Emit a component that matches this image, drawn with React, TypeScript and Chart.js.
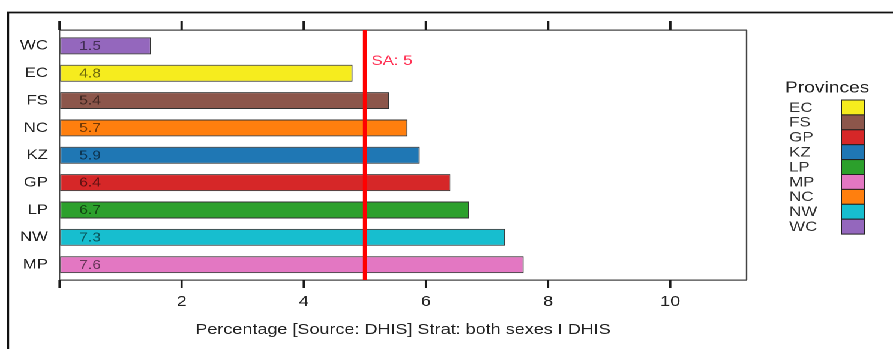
import React, { useEffect, useRef } from 'react';
import { Chart, registerables } from 'chart.js';

Chart.register(...registerables);

const FONT = '"Liberation Sans", Arial, Helvetica, sans-serif';
Chart.defaults.font.family = FONT;

// ---- data ----
const provinces = ['WC', 'EC', 'FS', 'NC', 'KZ', 'GP', 'LP', 'NW', 'MP'];
const values = [1.5, 4.8, 5.4, 5.7, 5.9, 6.4, 6.7, 7.3, 7.6];
const barColors = ['#9467bd', '#f6ec1e', '#8c564b', '#ff7f0e', '#1f77b4', '#d62728', '#2ca02c', '#17becf', '#e377c2'];
const legendLabels = ['EC', 'FS', 'GP', 'KZ', 'LP', 'MP', 'NC', 'NW', 'WC'];
const legendTitle = 'Provinces';
const saValue = 5;
const saLabel = 'SA: 5';
const xTitle = 'Percentage [Source: DHIS] Strat: both sexes I DHIS';
const xMin = 0;
const xMax = 11.25;
const xTickValues = [0, 2, 4, 6, 8, 10];
const valueLabelAt = 0.5;
const yMin = -0.58;
const yMax = 8.56;

// ---- layout (unstretched canvas coordinates) ----
const W = 744;
const H = 349;
const STRETCH = 893 / W;

const legendColors = legendLabels.map((l) => barColors[provinces.indexOf(l)]);

const fixX = (s: any) => {
  s.ticks = xTickValues.map((v) => ({ value: v }));
  s.min = xMin;
  s.max = xMax;
};

const decor = {
  id: 'decor',
  afterDatasetsDraw(chart: any) {
    const { ctx, chartArea: a, scales } = chart;
    const x = scales.x;
    const y = scales.y;
    ctx.save();
    // value labels inside bars
    ctx.font = `13px ${FONT}`;
    ctx.fillStyle = 'rgba(0,0,0,0.55)';
    ctx.textAlign = 'center';
    ctx.textBaseline = 'middle';
    values.forEach((v, i) => {
      ctx.fillText(v.toFixed(1), x.getPixelForValue(valueLabelAt), y.getPixelForValue(i) + 0.5);
    });
    // SA reference line
    const sx = x.getPixelForValue(saValue);
    ctx.strokeStyle = '#ff0000';
    ctx.lineWidth = 3.2;
    ctx.beginPath();
    ctx.moveTo(sx, a.top);
    ctx.lineTo(sx, a.bottom);
    ctx.stroke();
    ctx.font = `14px ${FONT}`;
    ctx.fillStyle = '#ff3355';
    ctx.textAlign = 'left';
    ctx.fillText(saLabel, sx + 5.5, y.getPixelForValue(0.55));
    ctx.restore();
  },
  afterDraw(chart: any) {
    const { ctx, chartArea: a, scales } = chart;
    const x = scales.x;
    ctx.save();
    // right border of the box
    ctx.strokeStyle = '#444';
    ctx.lineWidth = 1.2;
    ctx.beginPath();
    ctx.moveTo(a.right, a.top);
    ctx.lineTo(a.right, a.bottom);
    ctx.stroke();
    // tick marks below the bottom axis and above the top axis
    ctx.fillStyle = '#1a1a1a';
    xTickValues.forEach((v) => {
      const px = x.getPixelForValue(v);
      ctx.fillRect(px - 0.9, a.bottom, 1.8, 8);
      ctx.fillRect(px - 1, a.top - 9, 2, 9);
    });
    // outer frame
    ctx.strokeStyle = '#111';
    ctx.lineWidth = 1.8;
    ctx.beginPath();
    ctx.moveTo(6.7, H);
    ctx.lineTo(6.7, 12.5);
    ctx.lineTo(W, 12.5);
    ctx.stroke();
    // legend
    const titleX = a.right + 32;
    const labelX = a.right + 35.5;
    const boxX = a.right + 79;
    const boxW = 19;
    const boxTop = 100;
    const boxH = 14.9;
    ctx.font = `16px ${FONT}`;
    ctx.fillStyle = '#222';
    ctx.textAlign = 'left';
    ctx.textBaseline = 'middle';
    ctx.fillText(legendTitle, titleX, 88);
    ctx.font = `14px ${FONT}`;
    legendLabels.forEach((l, i) => {
      const top = boxTop + i * boxH;
      ctx.fillStyle = legendColors[i];
      ctx.fillRect(boxX, top, boxW, boxH);
      ctx.strokeStyle = '#222';
      ctx.lineWidth = 1;
      ctx.strokeRect(boxX, top, boxW, boxH);
      ctx.fillStyle = '#333';
      ctx.fillText(l, labelX, top + boxH / 2 + 0.5);
    });
    ctx.restore();
  },
};

export default function App() {
  const ref = useRef<HTMLCanvasElement>(null);
  useEffect(() => {
    if (!ref.current) return;
    const chart = new Chart(ref.current, {
      type: 'bar',
      data: {
        datasets: [
          {
            data: values.map((v, i) => ({ x: v, y: i })) as any,
            backgroundColor: barColors,
            borderColor: '#333',
            borderWidth: 1,
            borderSkipped: false,
            barPercentage: 0.62,
            categoryPercentage: 1,
          },
        ],
      },
      options: {
        indexAxis: 'y',
        animation: false,
        responsive: true,
        maintainAspectRatio: false,
        devicePixelRatio: 2,
        layout: { padding: { left: 0, right: W - 622, top: 0, bottom: 0 } },
        plugins: { legend: { display: false }, tooltip: { enabled: false } },
        scales: {
          x: {
            type: 'linear',
            position: 'bottom',
            bounds: 'data',
            offset: false,
            min: xMin,
            max: xMax,
            afterBuildTicks: fixX,
            ticks: {
              autoSkip: false,
              color: '#222',
              font: { size: 15 },
              padding: 5,
              callback: (v: any) => (v === 0 ? '' : String(v)),
            },
            grid: { drawOnChartArea: false, drawTicks: true, tickLength: 8, color: '#222', tickColor: '#222' },
            border: { display: true, color: '#444', width: 1.2 },
            title: { display: true, text: xTitle, color: '#222', font: { size: 15 }, padding: { top: 0, bottom: 10 } },
            afterFit: (s: any) => {
              s.height = H - 280;
            },
          },
          x2: {
            type: 'linear',
            position: 'top',
            bounds: 'data',
            offset: false,
            min: xMin,
            max: xMax,
            afterBuildTicks: fixX,
            ticks: { display: false },
            grid: { drawOnChartArea: false, drawTicks: true, tickLength: 9, color: '#222', tickColor: '#222' },
            border: { display: true, color: '#444', width: 1.2 },
            afterFit: (s: any) => {
              s.height = 30;
            },
          },
          y: {
            type: 'linear',
            reverse: true,
            bounds: 'data',
            offset: false,
            min: yMin,
            max: yMax,
            afterBuildTicks: (s: any) => {
              s.ticks = provinces.map((_, i) => ({ value: i }));
              s.min = yMin;
              s.max = yMax;
            },
            ticks: {
              autoSkip: false,
              color: '#222',
              font: { size: 14 },
              padding: 9.6,
              callback: (v: any) => provinces[v] ?? '',
            },
            grid: { drawOnChartArea: false, drawTicks: false, offset: false },
            border: { display: true, color: '#444', width: 1.2 },
            afterFit: (s: any) => {
              s.width = 49.6;
            },
          },
        },
      },
      plugins: [decor],
    });
    return () => chart.destroy();
  }, []);

  return (
    <div
      style={{
        position: 'absolute',
        left: 0,
        top: 0,
        width: W,
        height: H,
        transform: `scaleX(${STRETCH})`,
        transformOrigin: '0 0',
        background: '#fff',
      }}
    >
      <canvas ref={ref} />
    </div>
  );
}
